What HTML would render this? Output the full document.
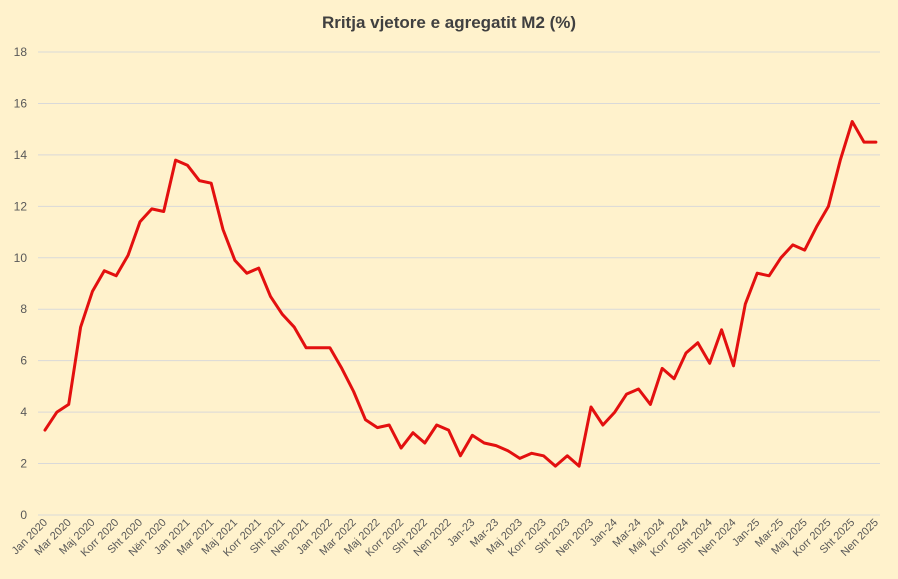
<!DOCTYPE html>
<html><head><meta charset="utf-8"><style>
html,body{margin:0;padding:0;background:#fff2cc;}
svg{display:block;font-family:"Liberation Sans",Arial,sans-serif;}
</style></head><body>
<svg width="898" height="579" viewBox="0 0 898 579" xmlns="http://www.w3.org/2000/svg">
<rect width="898" height="579" fill="#fff2cc"/>
<text x="449" y="28" text-anchor="middle" font-size="17" font-weight="bold" fill="#404040">Rritja vjetore e agregatit M2 (%)</text>
<g id="grid" stroke="#d9d9d9" stroke-width="1"></g>
<g id="yl" font-size="12" fill="#595959" text-anchor="end"></g>
<g id="xl" font-size="11" fill="#595959" text-anchor="end"></g>
<polyline id="line" fill="none" stroke="#e3100f" stroke-width="3" stroke-linejoin="round" stroke-linecap="round"/>
</svg>
<script>
var ns="http://www.w3.org/2000/svg";
function Y(v){return 515-v*25.72;}
var g=document.getElementById('grid'),yl=document.getElementById('yl'),xl=document.getElementById('xl');
for(var v=0;v<=18;v+=2){var l=document.createElementNS(ns,'line');l.setAttribute('x1',38);l.setAttribute('x2',880);l.setAttribute('y1',Y(v));l.setAttribute('y2',Y(v));g.appendChild(l);
var t=document.createElementNS(ns,'text');t.setAttribute('x',27);t.setAttribute('y',Y(v)+4);t.textContent=v;yl.appendChild(t);}
var d=[3.3,4.0,4.3,7.3,8.7,9.5,9.3,10.1,11.4,11.9,11.8,13.8,13.6,13.0,12.9,11.1,9.9,9.4,9.6,8.5,7.8,7.3,6.5,6.5,6.5,5.7,4.8,3.7,3.4,3.5,2.6,3.2,2.8,3.5,3.3,2.3,3.1,2.8,2.7,2.5,2.2,2.4,2.3,1.9,2.3,1.9,4.2,3.5,4.0,4.7,4.9,4.3,5.7,5.3,6.3,6.7,5.9,7.2,5.8,8.2,9.4,9.3,10.0,10.5,10.3,11.2,12.0,13.8,15.3,14.5,14.5];
function X(i){return 45+i*11.87;}
document.getElementById('line').setAttribute('points',d.map(function(v,i){return X(i).toFixed(1)+','+Y(v).toFixed(1)}).join(' '));
var labs=["Jan 2020","Mar 2020","Maj 2020","Korr 2020","Sht 2020","Nën 2020","Jan 2021","Mar 2021","Maj 2021","Korr 2021","Sht 2021","Nen 2021","Jan 2022","Mar 2022","Maj 2022","Korr 2022","Sht 2022","Nen 2022","Jan-23","Mar-23","Maj 2023","Korr 2023","Sht 2023","Nen 2023","Jan-24","Mar-24","Maj 2024","Korr 2024","Sht 2024","Nen 2024","Jan-25","Mar-25","Maj 2025","Korr 2025","Sht 2025","Nen 2025"];
labs.forEach(function(s,k){var x=X(k*2)+3,y=523;var t=document.createElementNS(ns,'text');t.setAttribute('x',x);t.setAttribute('y',y);t.setAttribute('transform','rotate(-45 '+x+' '+y+')');t.textContent=s;xl.appendChild(t);});
</script>
</body></html>
